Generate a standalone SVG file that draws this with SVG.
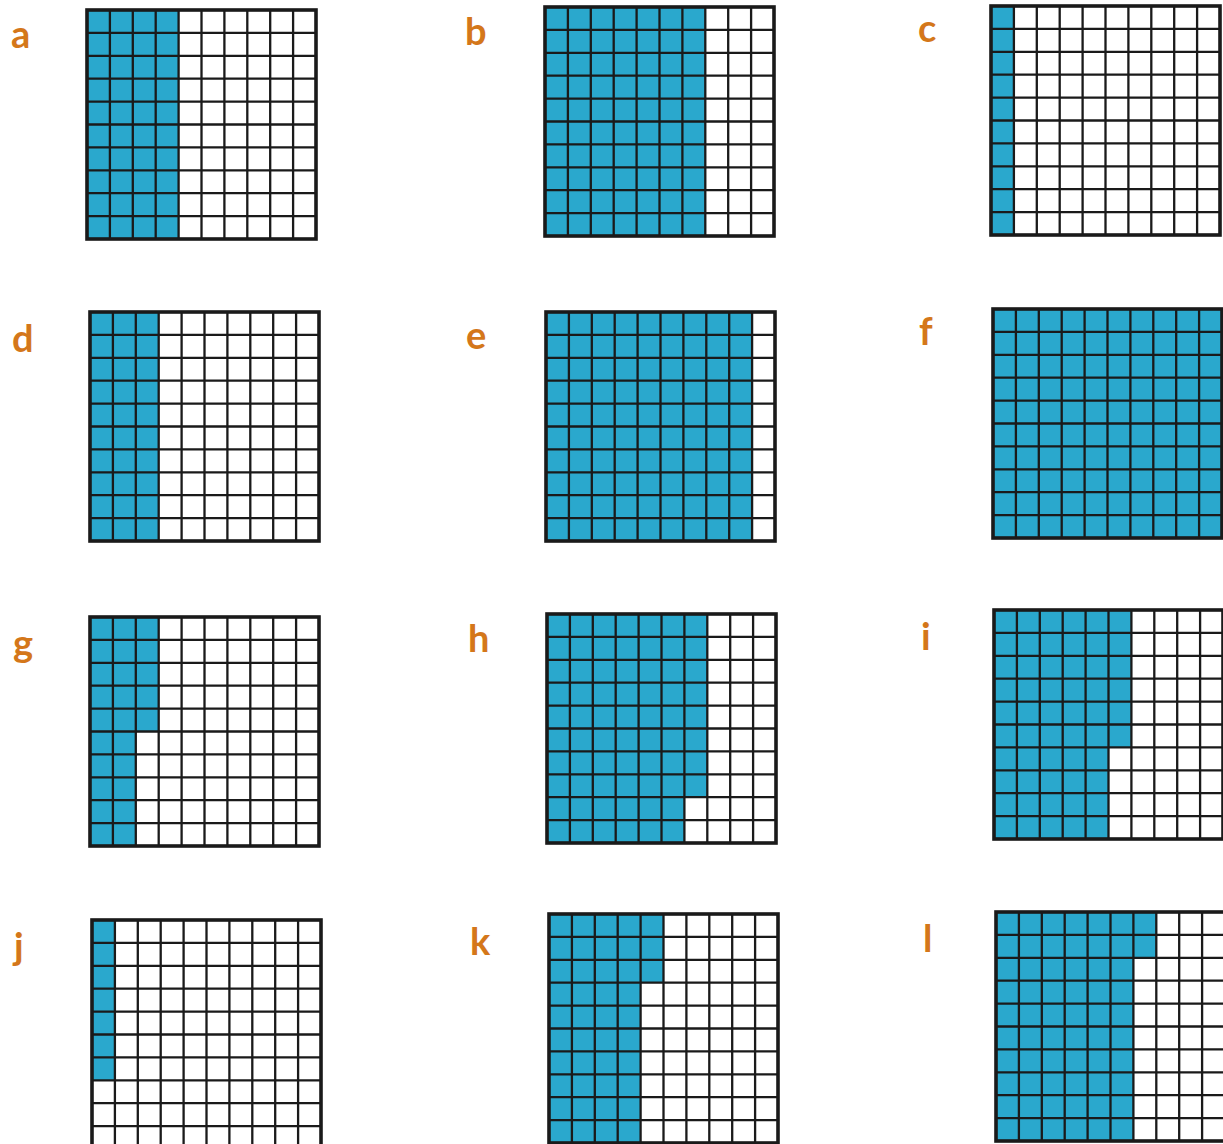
<svg xmlns="http://www.w3.org/2000/svg" xmlns:xlink="http://www.w3.org/1999/xlink" width="1223" height="1144" viewBox="0 0 1223 1144">
<style>
.bg{fill:#ffffff}
.sh{fill:#2aa8cd}
.ln{fill:none;stroke:#1a1a1a;stroke-width:2.3}
.bd{fill:none;stroke:#1a1a1a;stroke-width:3.6}
.lb{font-family:Lato,"Liberation Sans",sans-serif;font-weight:bold;font-size:38px;fill:#d4771a}
</style>
<defs>
<g id="grid">
<path class="ln" d="M22.9 0V229M45.8 0V229M68.7 0V229M91.6 0V229M114.5 0V229M137.4 0V229M160.3 0V229M183.2 0V229M206.1 0V229M0 22.9H229M0 45.8H229M0 68.7H229M0 91.6H229M0 114.5H229M0 137.4H229M0 160.3H229M0 183.2H229M0 206.1H229"/>
<rect class="bd" x="0" y="0" width="229" height="229"/>
</g>
</defs>
<rect class="bg" x="0" y="0" width="1223" height="1144"/>

<g id="grid-a" transform="translate(87,10)">
<rect class="sh" x="0" y="0" width="91.6" height="229"/>
<use xlink:href="#grid" href="#grid"/>
</g>
<g id="grid-b" transform="translate(545,7)">
<rect class="sh" x="0" y="0" width="160.3" height="229"/>
<use xlink:href="#grid" href="#grid"/>
</g>
<g id="grid-c" transform="translate(991,6)">
<rect class="sh" x="0" y="0" width="22.9" height="229"/>
<use xlink:href="#grid" href="#grid"/>
</g>
<g id="grid-d" transform="translate(90,312)">
<rect class="sh" x="0" y="0" width="68.7" height="229"/>
<use xlink:href="#grid" href="#grid"/>
</g>
<g id="grid-e" transform="translate(546,312)">
<rect class="sh" x="0" y="0" width="206.1" height="229"/>
<use xlink:href="#grid" href="#grid"/>
</g>
<g id="grid-f" transform="translate(993,309)">
<rect class="sh" x="0" y="0" width="229" height="229"/>
<use xlink:href="#grid" href="#grid"/>
</g>
<g id="grid-g" transform="translate(90,617)">
<polygon class="sh" points="0,0 68.7,0 68.7,114.5 45.8,114.5 45.8,229 0,229"/>
<use xlink:href="#grid" href="#grid"/>
</g>
<g id="grid-h" transform="translate(547,614)">
<polygon class="sh" points="0,0 160.3,0 160.3,183.2 137.4,183.2 137.4,229 0,229"/>
<use xlink:href="#grid" href="#grid"/>
</g>
<g id="grid-i" transform="translate(994,610)">
<polygon class="sh" points="0,0 137.4,0 137.4,137.4 114.5,137.4 114.5,229 0,229"/>
<use xlink:href="#grid" href="#grid"/>
</g>
<g id="grid-j" transform="translate(92,920)">
<rect class="sh" x="0" y="0" width="22.9" height="160.3"/>
<use xlink:href="#grid" href="#grid"/>
</g>
<g id="grid-k" transform="translate(549,914)">
<polygon class="sh" points="0,0 114.5,0 114.5,68.7 91.6,68.7 91.6,229 0,229"/>
<use xlink:href="#grid" href="#grid"/>
</g>
<g id="grid-l" transform="translate(996,912)">
<polygon class="sh" points="0,0 160.3,0 160.3,45.8 137.4,45.8 137.4,229 0,229"/>
<use xlink:href="#grid" href="#grid"/>
</g>

<g id="labels">
<text class="lb" x="11" y="48">a</text>
<text class="lb" x="465" y="45">b</text>
<text class="lb" x="918" y="42">c</text>
<text class="lb" x="12" y="352">d</text>
<text class="lb" x="466" y="349">e</text>
<text class="lb" x="919" y="345">f</text>
<text class="lb" x="13" y="657">g</text>
<text class="lb" x="468" y="652">h</text>
<text class="lb" x="921" y="650">i</text>
<text class="lb" x="14" y="960">j</text>
<text class="lb" x="470" y="955">k</text>
<text class="lb" x="923" y="952">l</text>
</g>
</svg>
